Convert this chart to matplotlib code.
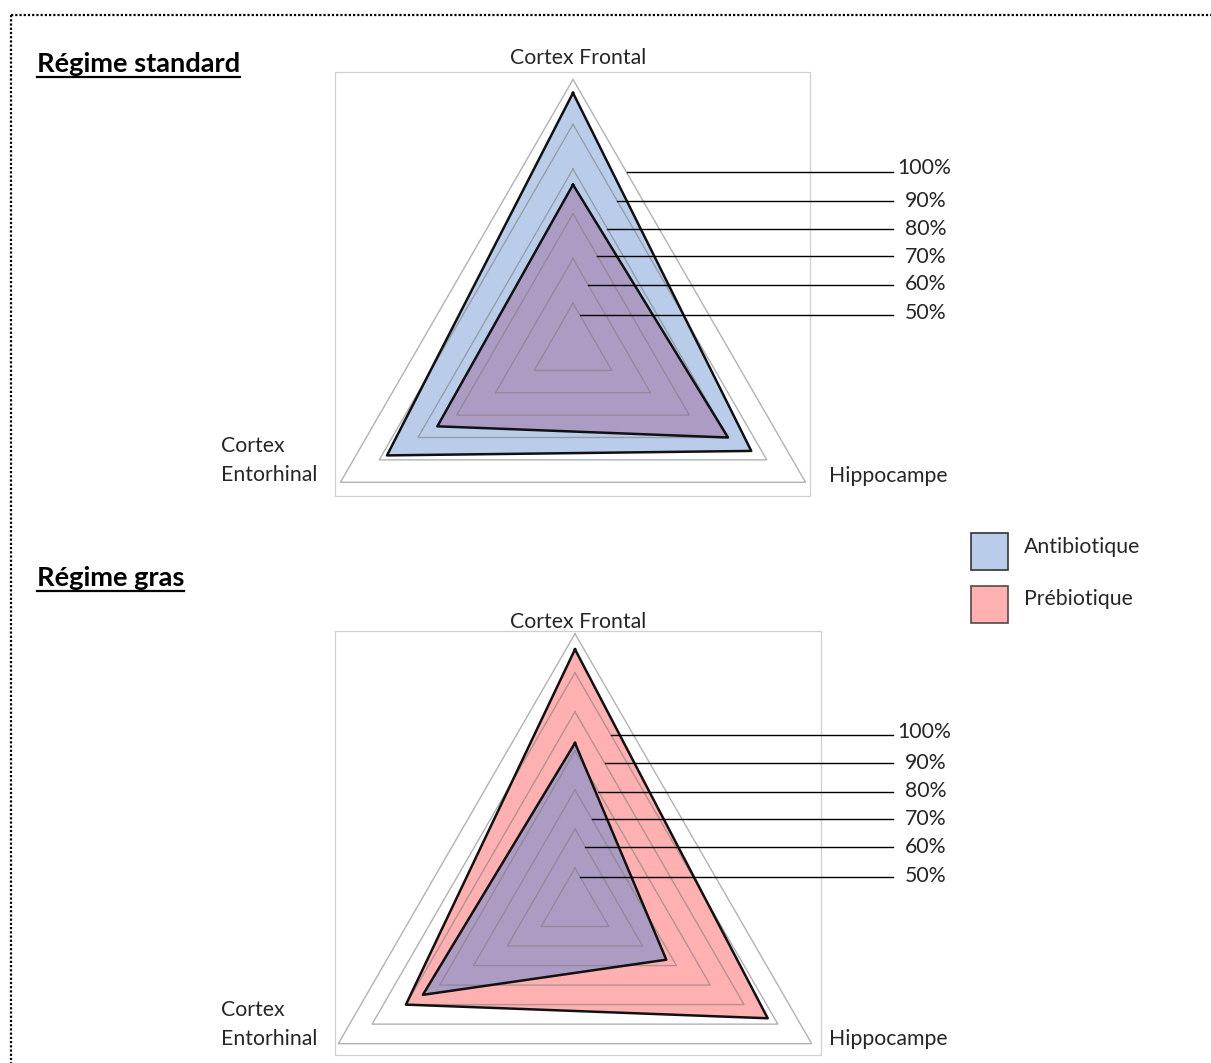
import numpy as np
import matplotlib
matplotlib.use("Agg")
import matplotlib.pyplot as plt
from matplotlib.patches import Rectangle
from matplotlib.lines import Line2D

plt.rcParams['font.family'] = ['Lato', 'DejaVu Sans']

# Data (values in %)
categories = ["Cortex Frontal", "Hippocampe", "Cortex\nEntorhinal"]
levels = [50, 60, 70, 80, 90, 100]
level_labels = ["50%", "60%", "70%", "80%", "90%", "100%"]
series_names = ["Antibiotique", "Prébiotique"]

standard_antibio = [97, 86, 88]
standard_prebio = [76.5, 80, 75]
gras_antibio = [82, 67, 85]
gras_prebio = [106, 97, 90]

W, H = 1211, 1063
fig = plt.figure(figsize=(W / 100, H / 100), dpi=100)


def fx(px):
    return px / W


def fy(py):
    return 1 - py / H


BLUE = '#b9cdeb'
PINK = '#ffb0b0'
PURPLE = '#ac9cc4'
TXT = '#262626'
FS = 15.3

N = len(categories)
angles = [n / float(N) * 2 * np.pi for n in range(N)]
angles += angles[:1]


def radar(cx, cy, rad, rmax, back, front, back_color, front_color,
          line_y, text_y, box, lab_y):
    ax = fig.add_axes([fx(cx - rad), fy(cy + rad), 2 * rad / W, 2 * rad / H],
                      polar=True)
    ax.set_theta_offset(np.pi / 2)
    ax.set_theta_direction(-1)
    ax.set_ylim(40, rmax)
    ax.set_axis_off()

    for vals, col in [(back, back_color), (front, front_color)]:
        v = vals + vals[:1]
        ax.fill(angles, v, color=col, zorder=2, clip_on=False, lw=0)
        ax.plot(angles, v, color='#111111', lw=1.8, zorder=4, clip_on=False)

    grid = levels + ([rmax] if rmax > 100 else [])
    for g in grid:
        ax.plot(angles, [g] * 4, color='#7f7f7f', alpha=0.6, lw=1.0,
                zorder=3, clip_on=False)

    # callout lines for the level labels
    for g, lab, ly, ty in zip(levels, level_labels, line_y, text_y):
        p0 = ax.transData.transform((angles[0], g))
        p1 = ax.transData.transform((angles[1], g))
        yd = H - ly
        t = (p0[1] - yd) / (p0[1] - p1[1])
        xd = p0[0] + t * (p1[0] - p0[0])
        fig.add_artist(Line2D([xd / W, fx(893)], [yd / H, yd / H],
                              color='black', lw=1.0))
        fig.text(fx(897 if len(lab) > 3 else 905), fy(ty), lab,
                 fontsize=FS, color=TXT, va='baseline', ha='left')

    # chart frame
    x0, y0, x1, y1 = box
    fig.add_artist(Rectangle((fx(x0), fy(y1)), (x1 - x0) / W, (y1 - y0) / H,
                             fill=False, ec='#d0d0d0', lw=0.9))

    # category labels
    fig.text(fx(578), fy(lab_y[0]), categories[0], fontsize=FS,
             color=TXT, ha='center', va='baseline')
    fig.text(fx(829), fy(lab_y[1]), categories[1], fontsize=FS,
             color=TXT, ha='left', va='baseline')
    for i, part in enumerate(categories[2].split('\n')):
        fig.text(fx(221), fy(lab_y[2] + 29 * i), part, fontsize=FS,
                 color=TXT, ha='left', va='baseline')
    return ax


# Régime standard: antibiotique behind, prébiotique in front
radar(573, 348, 268.5, 100, standard_antibio, standard_prebio, BLUE, PURPLE,
      line_y=[315, 285, 255.5, 228.5, 200.5, 172.3],
      text_y=[319, 290, 262.7, 235, 206.7, 174.3],
      box=(335, 72, 810, 496), lab_y=[64.5, 481.7, 452])

# Régime gras: prébiotique behind, antibiotique in front
radar(575, 907, 273.3, 110, gras_prebio, gras_antibio, PINK, PURPLE,
      line_y=[877, 847, 818.5, 791.5, 763.3, 735],
      text_y=[882, 853, 825, 797, 769, 738],
      box=(335, 631, 821, 1055), lab_y=[628.5, 1045, 1016])

# section titles, underlined
for title, base, ul in [("Régime standard", 71.7, 77), ("Régime gras", 586, 591)]:
    t = fig.text(fx(37), fy(base), title, fontsize=19.6, fontweight='bold',
                 color='black', va='baseline', ha='left')
    fig.canvas.draw()
    bb = t.get_window_extent()
    fig.add_artist(Line2D([bb.x0 / W, bb.x1 / W], [fy(ul), fy(ul)],
                          color='black', lw=1.6))

# legend
for name, col, ec, top, base in [(series_names[0], BLUE, '#333333', 533, 553.3),
                                  (series_names[1], PINK, '#5a4646', 586, 605)]:
    fig.add_artist(Rectangle((fx(971), fy(top + 37)), 37 / W, 37 / H,
                             fc=col, ec=ec, lw=1.2))
    fig.text(fx(1024), fy(base), name, fontsize=FS, color=TXT,
             va='baseline', ha='left')

# dotted outer border
fig.add_artist(Line2D([fx(11), 1], [fy(15), fy(15)], color='black', lw=1.6,
                      linestyle=(0, (1, 0.9))))
fig.add_artist(Line2D([fx(11), fx(11)], [fy(15), 0], color='black', lw=1.6,
                      linestyle=(0, (1, 0.9))))

fig.savefig('out.png', dpi=100)
